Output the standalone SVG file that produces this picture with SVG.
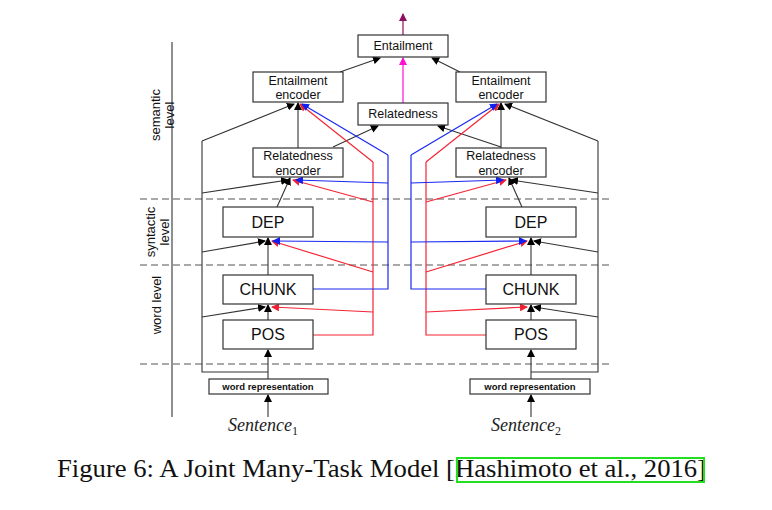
<svg xmlns="http://www.w3.org/2000/svg" width="772" height="510" viewBox="0 0 772 510">
<defs>
<marker id="ak" markerWidth="8" markerHeight="8" refX="7" refY="4" orient="auto" markerUnits="userSpaceOnUse"><path d="M0,0 L8,4 L0,8 z" fill="#000"/></marker>
<marker id="ar" markerWidth="8" markerHeight="8" refX="7" refY="4" orient="auto" markerUnits="userSpaceOnUse"><path d="M0,0 L8,4 L0,8 z" fill="#f02030"/></marker>
<marker id="ab" markerWidth="8" markerHeight="8" refX="7" refY="4" orient="auto" markerUnits="userSpaceOnUse"><path d="M0,0 L8,4 L0,8 z" fill="#1020f0"/></marker>
<marker id="am" markerWidth="8" markerHeight="8" refX="7" refY="4" orient="auto" markerUnits="userSpaceOnUse"><path d="M0,0 L8,4 L0,8 z" fill="#ff10d0"/></marker>
<marker id="ap" markerWidth="8" markerHeight="8" refX="7" refY="4" orient="auto" markerUnits="userSpaceOnUse"><path d="M0,0 L8,4 L0,8 z" fill="#8b1060"/></marker>
</defs>
<style>
.box{fill:#fff;stroke:#333;stroke-width:1.2}
.t{font-family:"Liberation Sans",Arial,sans-serif;font-size:12.5px;fill:#111;text-anchor:middle}
.tb{font-family:"Liberation Sans",Arial,sans-serif;font-size:16px;fill:#111;text-anchor:middle}
.ts{font-family:"Liberation Sans",Arial,sans-serif;font-size:9.5px;font-weight:bold;fill:#111;text-anchor:middle}
.k{fill:none;stroke:#333;stroke-width:1.1}
.ka{fill:none;stroke:#333;stroke-width:1.1;marker-end:url(#ak)}
.r{fill:none;stroke:#f52535;stroke-width:1.2}
.ra{fill:none;stroke:#f52535;stroke-width:1.2;marker-end:url(#ar)}
.b{fill:none;stroke:#1a28f0;stroke-width:1.2}
.ba{fill:none;stroke:#1a28f0;stroke-width:1.2;marker-end:url(#ab)}
.d{stroke:#555;stroke-width:1.2;stroke-dasharray:7,4}
.lv{font-family:"Liberation Sans",Arial,sans-serif;font-size:13px;fill:#111;text-anchor:middle}
.sent{font-family:"Liberation Serif","Times New Roman",serif;font-style:italic;font-size:18px;fill:#222;text-anchor:middle}
</style>
<rect width="772" height="510" fill="#fff"/>
<g id="axis">
<line x1="172" y1="42" x2="172" y2="417" stroke="#444" stroke-width="1.2"/>
<line class="d" x1="140" y1="199" x2="612" y2="199"/>
<line class="d" x1="140" y1="265" x2="612" y2="265"/>
<line class="d" x1="140" y1="364" x2="612" y2="364"/>
<text class="lv" transform="translate(160,115) rotate(-90)">semantic</text>
<text class="lv" transform="translate(174,115) rotate(-90)">level</text>
<text class="lv" transform="translate(155,232) rotate(-90)">syntactic</text>
<text class="lv" transform="translate(169,232) rotate(-90)">level</text>
<text class="lv" transform="translate(161,305) rotate(-90)">word level</text>
</g>
<g id="connectors">
<line x1="403" y1="35" x2="403" y2="14" stroke="#8b1060" stroke-width="1.2" marker-end="url(#ap)"/>
<line x1="403" y1="103" x2="403" y2="58" stroke="#ff10d0" stroke-width="1.2" marker-end="url(#am)"/>
<line class="ka" x1="340" y1="72" x2="380" y2="58"/>
<line class="ka" x1="460" y1="72" x2="432" y2="58"/>
<line class="ka" x1="333" y1="147" x2="378" y2="126"/>
<line class="ka" x1="501" y1="147" x2="438" y2="126"/>
<line class="ka" x1="298" y1="148" x2="298" y2="103"/>
<line class="ka" x1="277" y1="207" x2="290" y2="178"/>
<line class="ka" x1="268" y1="275" x2="268" y2="238"/>
<line class="ka" x1="268" y1="320" x2="268" y2="305"/>
<line class="ka" x1="268" y1="379" x2="268" y2="350"/>
<line class="ka" x1="268" y1="417" x2="268" y2="395"/>
<polyline class="k" points="268,372 202,372 202,141"/>
<line class="ka" x1="202" y1="141" x2="294" y2="104"/>
<line class="ka" x1="202" y1="193" x2="288" y2="180"/>
<line class="ka" x1="202" y1="252" x2="265" y2="241"/>
<line class="ka" x1="202" y1="317" x2="265" y2="307"/>
<polyline class="r" points="313,335 373,335 373,162"/>
<line class="ra" x1="373" y1="162" x2="300" y2="104"/>
<line class="ra" x1="373" y1="202" x2="293" y2="180"/>
<line class="ra" x1="373" y1="272" x2="272" y2="241"/>
<line class="ra" x1="373" y1="312" x2="272" y2="307"/>
<polyline class="b" points="313,289 388,289 388,155"/>
<line class="ba" x1="388" y1="155" x2="302" y2="104"/>
<line class="ba" x1="388" y1="183" x2="296" y2="180"/>
<line class="ba" x1="388" y1="242" x2="273" y2="241"/>
<line class="ka" x1="501" y1="148" x2="501" y2="103"/>
<line class="ka" x1="522" y1="207" x2="509" y2="178"/>
<line class="ka" x1="531" y1="275" x2="531" y2="238"/>
<line class="ka" x1="531" y1="320" x2="531" y2="305"/>
<line class="ka" x1="531" y1="379" x2="531" y2="350"/>
<line class="ka" x1="531" y1="417" x2="531" y2="395"/>
<polyline class="k" points="531,372 598,372 598,141"/>
<line class="ka" x1="598" y1="141" x2="505" y2="104"/>
<line class="ka" x1="598" y1="193" x2="511" y2="180"/>
<line class="ka" x1="598" y1="252" x2="534" y2="241"/>
<line class="ka" x1="598" y1="317" x2="534" y2="307"/>
<polyline class="r" points="486,335 426,335 426,162"/>
<line class="ra" x1="426" y1="162" x2="499" y2="104"/>
<line class="ra" x1="426" y1="202" x2="506" y2="180"/>
<line class="ra" x1="426" y1="272" x2="527" y2="241"/>
<line class="ra" x1="426" y1="312" x2="527" y2="307"/>
<polyline class="b" points="486,289 411,289 411,155"/>
<line class="ba" x1="411" y1="155" x2="497" y2="104"/>
<line class="ba" x1="411" y1="183" x2="503" y2="180"/>
<line class="ba" x1="411" y1="242" x2="526" y2="241"/>
</g>
<g id="entailment"><rect class="box" x="358" y="35" width="90" height="22"/><text class="t" x="403" y="50">Entailment</text></g>
<g id="relatedness"><rect class="box" x="358" y="103" width="90" height="22"/><text class="t" x="403" y="118">Relatedness</text></g>
<g id="ent-enc-1"><rect class="box" x="253" y="72" width="90" height="30"/><text class="t" x="298" y="85">Entailment</text><text class="t" x="298" y="99">encoder</text></g>
<g id="rel-enc-1"><rect class="box" x="253" y="148" width="90" height="29"/><text class="t" x="298" y="160">Relatedness</text><text class="t" x="298" y="175">encoder</text></g>
<g id="dep-1"><rect class="box" x="223" y="207" width="90" height="30"/><text class="tb" x="268" y="228">DEP</text></g>
<g id="chunk-1"><rect class="box" x="223" y="275" width="90" height="29"/><text class="tb" x="268" y="295">CHUNK</text></g>
<g id="pos-1"><rect class="box" x="223" y="320" width="90" height="29"/><text class="tb" x="268" y="340">POS</text></g>
<g id="wr-1"><rect class="box" x="209" y="379" width="119" height="15"/><text class="ts" x="268" y="390">word representation</text></g>
<g id="s1"><text class="sent" x="263" y="431">Sentence<tspan font-style="normal" font-size="12" dy="4">1</tspan></text></g>
<g id="ent-enc-2"><rect class="box" x="456" y="72" width="90" height="30"/><text class="t" x="501" y="85">Entailment</text><text class="t" x="501" y="99">encoder</text></g>
<g id="rel-enc-2"><rect class="box" x="456" y="148" width="90" height="29"/><text class="t" x="501" y="160">Relatedness</text><text class="t" x="501" y="175">encoder</text></g>
<g id="dep-2"><rect class="box" x="486" y="207" width="90" height="30"/><text class="tb" x="531" y="228">DEP</text></g>
<g id="chunk-2"><rect class="box" x="486" y="275" width="90" height="29"/><text class="tb" x="531" y="295">CHUNK</text></g>
<g id="pos-2"><rect class="box" x="486" y="320" width="90" height="29"/><text class="tb" x="531" y="340">POS</text></g>
<g id="wr-2"><rect class="box" x="470" y="379" width="120" height="15"/><text class="ts" x="530" y="390">word representation</text></g>
<g id="s2"><text class="sent" x="526" y="431">Sentence<tspan font-style="normal" font-size="12" dy="4">2</tspan></text></g>
<g id="caption">
<text x="57" y="477" font-family="Liberation Serif,'Times New Roman',serif" font-size="25" fill="#111" textLength="649" lengthAdjust="spacingAndGlyphs">Figure 6: A Joint Many-Task Model [Hashimoto et al., 2016]</text>
<rect x="457" y="458" width="247" height="24" fill="none" stroke="#20e020" stroke-width="2"/>
</g>
</svg>
